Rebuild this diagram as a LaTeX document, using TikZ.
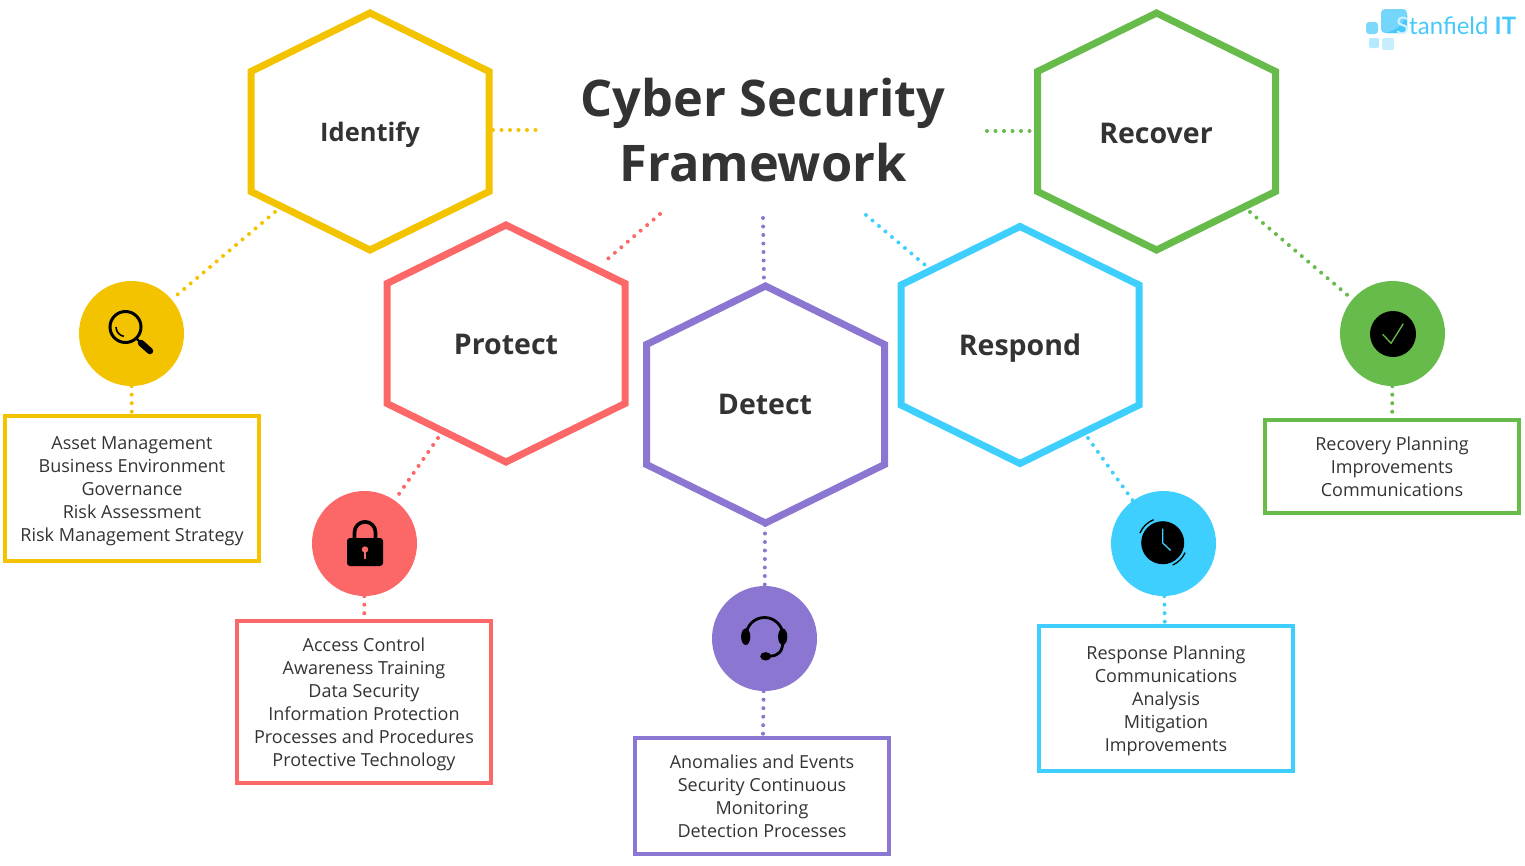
\documentclass[tikz,border=0pt]{standalone}
\usepackage{fontspec}
\setmainfont{Open Sans}
\newfontfamily\logofont{Lato}
\definecolor{yellowcol}{HTML}{F3C300}
\definecolor{redcol}{HTML}{FC6868}
\definecolor{purplecol}{HTML}{8B76D1}
\definecolor{cyancol}{HTML}{3FCFFF}
\definecolor{greencol}{HTML}{66BB4A}
\definecolor{textcol}{HTML}{333333}
\definecolor{logocol}{HTML}{45C8FA}

\begin{document}
\begin{tikzpicture}[x=1pt, y=-1pt, every node/.style={text=textcol}]
	\tikzstyle{hexagon}=[line width=7pt,line join=miter]
	\tikzstyle{hexlabel}=[anchor=base,font=\bfseries\fontsize{28.5}{34}\selectfont]
	\tikzstyle{dots}=[line width=4pt,line cap=round,dash pattern=on 0pt off 8.5pt]
	\tikzstyle{disc}=[circle,minimum size=105pt,inner sep=0pt]
	\tikzstyle{listbox}=[draw,line width=4pt,minimum width=254pt,align=center,inner sep=0pt,font=\fontsize{18}{23}\selectfont]
	\def\hexpath{(0,-118.5) -- (119,-60) -- (119,60) -- (0,118.5) -- (-119,60) -- (-119,-60) -- cycle}
	\useasboundingbox (0,0) rectangle (1525,865);

	\node[font=\bfseries\fontsize{50.5}{65}\selectfont,align=center](title) at (763,130.5){Cyber Security\\Framework};
	\coordinate (titleyellow) at (540,130);
	\coordinate (titlered) at (660,214);
	\coordinate (titlepurple) at (763,218);
	\coordinate (titlecyan) at (866,215);
	\coordinate (titlegreen) at (987,131);

	\draw[hexagon,yellowcol,shift={(370,131.5)}] \hexpath;
	\draw[hexagon,redcol,shift={(506,343.5)}] \hexpath;
	\draw[hexagon,purplecol,shift={(765.5,404.5)}] \hexpath;
	\draw[hexagon,cyancol,shift={(1020,345)}] \hexpath;
	\draw[hexagon,greencol,shift={(1156.5,131.5)}] \hexpath;
	\node[hexlabel,font=\bfseries\fontsize{25.5}{34}\selectfont](identify) at (370,141){Identify};
	\node[hexlabel](protect) at (506,354){Protect};
	\node[hexlabel](detect) at (765,414){Detect};
	\node[hexlabel](respond) at (1020,355){Respond};
	\node[hexlabel](recover) at (1156,143){Recover};

	\node[disc,fill=yellowcol](identifydisc) at (131.5,333.5){};
	\node[disc,fill=redcol](protectdisc) at (364.5,543.5){};
	\node[disc,fill=purplecol](detectdisc) at (764.5,638.5){};
	\node[disc,fill=cyancol](responddisc) at (1163.5,543.5){};
	\node[disc,fill=greencol](recoverdisc) at (1392.5,333.5){};

	\node[listbox,draw=yellowcol,minimum height=145pt,text height=111pt](identifybox) at (132,488.5){Asset Management\\Business Environment\\Governance\\Risk Assessment\\Risk Management Strategy};
	\node[listbox,draw=redcol,minimum height=162pt,text height=132.7pt](protectbox) at (364,702){Access Control\\Awareness Training\\Data Security\\Information Protection\\Processes and Procedures\\Protective Technology};
	\node[listbox,draw=purplecol,minimum height=116pt](detectbox) at (762,796){Anomalies and Events\\Security Continuous\\Monitoring\\Detection Processes};
	\node[listbox,draw=cyancol,minimum height=145pt,text height=109.7pt](respondbox) at (1166,698.5){Response Planning\\Communications\\Analysis\\Mitigation\\Improvements};
	\node[listbox,draw=greencol,minimum height=93pt](recoverbox) at (1392,466.5){Recovery Planning\\Improvements\\Communications};

	\coordinate (identifyout) at (275,212);
	\coordinate (protectin) at (603,263);
	\coordinate (protectout) at (438,438);
	\coordinate (detectin) at (764,285);
	\coordinate (detectout) at (765,525);
	\coordinate (respondin) at (925,265);
	\coordinate (respondout) at (1088,438);
	\coordinate (recoverout) at (1250,212);
	\coordinate (identifyin) at (493,130);
	\coordinate (recoverin) at (1037,131);

	\draw[dots,yellowcol] (identifyin) -- (titleyellow);
	\draw[dots,yellowcol] (identifyout) -- (identifydisc);
	\draw[dots,yellowcol] (identifydisc) -- (identifybox);
	\draw[dots,redcol] (titlered) -- (protectin);
	\draw[dots,redcol] (protectout) -- (protectdisc);
	\draw[dots,redcol] (protectdisc) -- (protectbox);
	\draw[dots,purplecol] (titlepurple) -- (detectin);
	\draw[dots,purplecol] (detectout) -- (detectdisc);
	\draw[dots,purplecol] (detectdisc) -- (detectbox);
	\draw[dots,cyancol] (titlecyan) -- (respondin);
	\draw[dots,cyancol] (respondout) -- (responddisc);
	\draw[dots,cyancol] (responddisc) -- (respondbox);
	\draw[dots,greencol] (titlegreen) -- (recoverin);
	\draw[dots,greencol] (recoverout) -- (recoverdisc);
	\draw[dots,greencol] (recoverdisc) -- (recoverbox);

	\draw[line width=3pt] (125.5,327) circle (15.5);
	\draw[line width=1.6pt] (116,327) arc (180:100:9.5);
	\draw[line width=2.4pt] (136,338) -- (140,342);
	\draw[line width=6.5pt,line cap=round] (141,343) -- (150,351);

	\draw[line width=3.6pt] (354.5,540) -- (354.5,532.3) arc (180:360:10.5) -- (375.5,540);
	\fill[black,rounded corners=3pt] (347,538) rectangle (383,566);
	\fill[redcol] (365,549.5) circle (3.2);
	\fill[redcol] (363.8,550) rectangle (366.2,558.5);

	\draw[line width=2.8pt] (746,636) arc (180:360:18.5) -- (783,640) .. controls (783,652) and (778,656) .. (770,656);
	\fill[black] (745.7,636.7) ellipse (4.6 and 8.3);
	\fill[black] (782.7,636.7) ellipse (4.6 and 8.3);
	\fill[black] (765.7,656.3) ellipse (5.5 and 4.2);

	\fill[black] (1162.7,542.7) circle (21.5);
	\draw[cyancol,line width=1.3pt] (1162.7,528.5) -- (1162.7,543) -- (1170.7,550.5);
	\draw[line width=1.3pt] (1153.7,519.7) arc (-111:-157:24.5);
	\draw[line width=1.3pt] (1172.7,565) arc (66:24:24.5);

	\fill[black] (1393,334) circle (23);
	\draw[greencol,line width=1.3pt] (1382.7,334.3) -- (1391,343.3) -- (1403.3,323.7);

	\fill[logocol!70!white,rounded corners=3pt] (1366,22) rectangle (1378,34);
	\fill[logocol!40!white,rounded corners=2pt] (1369,38) rectangle (1379,48);
	\fill[logocol!30!white,rounded corners=2pt] (1382,38) rectangle (1394,50);
	\fill[logocol!75!white,rounded corners=4pt] (1381,9) rectangle (1407,33);
	\fill[logocol] (1386,33) .. controls (1395,30) and (1402,27) .. (1407,15) -- (1407,29) -- (1403,33) -- cycle;
	\node[text=logocol,font=\logofont\fontsize{24}{28}\selectfont,anchor=base west,inner sep=0pt](logo) at (1396,34){\textcolor{logocol!25!white}{S}tanfield \textbf{IT}};
\end{tikzpicture}
\end{document}
